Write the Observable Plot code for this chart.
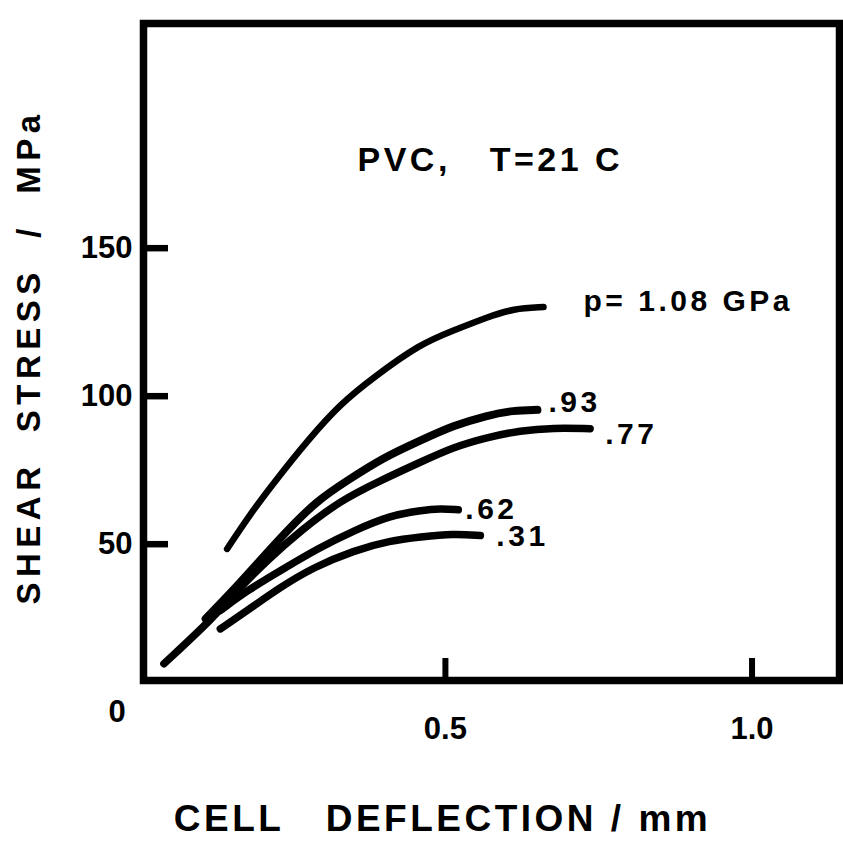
<!DOCTYPE html>
<html><head><meta charset="utf-8">
<script src="https://cdn.jsdelivr.net/npm/d3@7"></script>
<script src="https://cdn.jsdelivr.net/npm/@observablehq/plot@0.6"></script>
<style>
html,body{margin:0;padding:0;background:#fff;}
#chart svg{display:block;}
</style>
</head><body><div id="chart"></div>
<script>
// ---- data ----
const seriesKeys = ["1.08", ".93", ".77", ".62", ".31"];
const seriesLabels = ["p=\u00A01.08\u00A0GPa", ".93", ".77", ".62", ".31"];

const deflection108 = [0.144, 0.182, 0.223, 0.275, 0.329, 0.383, 0.459, 0.513, 0.568, 0.611, 0.660];
const stress108     = [48.4, 60.3, 71.5, 85.0, 97.5, 106.4, 117.7, 122.2, 126.7, 129.6, 130.1];

const deflection093 = [0.109, 0.149, 0.193, 0.242, 0.291, 0.340, 0.399, 0.459, 0.513, 0.568, 0.611, 0.650];
const stress093     = [24.8, 33.3, 43.4, 54.6, 64.8, 71.5, 79.3, 85.0, 90.1, 93.5, 95.2, 95.4];

const deflection077 = [0.041, 0.120, 0.166, 0.209, 0.264, 0.329, 0.394, 0.459, 0.513, 0.568, 0.622, 0.676, 0.736];
const stress077     = [9.6, 24.8, 35.5, 44.5, 54.6, 64.8, 71.5, 77.7, 82.8, 86.1, 88.4, 89.3, 89.0];

const deflection062 = [0.133, 0.177, 0.231, 0.296, 0.351, 0.410, 0.459, 0.492, 0.521];
const stress062     = [27.6, 34.4, 41.1, 49.0, 54.6, 59.7, 61.4, 62.1, 61.6];

const deflection031 = [0.133, 0.177, 0.231, 0.285, 0.351, 0.410, 0.459, 0.513, 0.557];
const stress031     = [21.4, 27.6, 35.5, 42.2, 47.9, 51.2, 52.4, 53.6, 52.9];

const xTicks = [0.5, 1.0];
const xTickLabels = ["0.5", "1.0"];
const yTicks = [50, 100, 150];
const yTickLabels = ["50", "100", "150"];
const originLabel = "0";
const annotation = "PVC,\u00A0\u00A0\u00A0T=21\u00A0C";
const xTitle = "CELL\u00A0\u00A0\u00A0DEFLECTION\u00A0/\u00A0mm";
const yTitle = "SHEAR\u00A0\u00A0STRESS\u00A0\u00A0/\u00A0\u00A0MPa";

// ---- build table ----
const xs = [deflection108, deflection093, deflection077, deflection062, deflection031];
const ys = [stress108, stress093, stress077, stress062, stress031];
const rows = [];
seriesKeys.forEach((k, i) => xs[i].forEach((x, j) => rows.push({p: k, x, y: ys[i][j]})));
const ends = seriesKeys.map((k, i) => ({p: k, label: seriesLabels[i], x: xs[i][xs[i].length - 1], y: ys[i][ys[i].length - 1]}));

// label offsets (style only)
const labelOffset = {"1.08": [40, -6], ".93": [11, -7], ".77": [15, 6], ".62": [7, 0], ".31": [16, 1]};
const lineWidth = {"1.08": 6.5, ".93": 8, ".77": 7.5, ".62": 7.5, ".31": 7.5};

const font = "'Liberation Sans', Arial, Helvetica, sans-serif";

const marks = [
  Plot.frame({stroke: "#000", strokeWidth: 7.5}),
  ...seriesKeys.map(k => Plot.line(rows.filter(d => d.p === k), {
    x: "x", y: "y", curve: "basis", stroke: "#000", strokeWidth: lineWidth[k], strokeLinecap: "round", strokeLinejoin: "round"
  })),
  ...seriesKeys.map(k => Plot.text(ends.filter(d => d.p === k), {
    x: "x", y: "y", text: "label", textAnchor: "start", lineAnchor: "middle",
    dx: labelOffset[k][0], dy: labelOffset[k][1], fontSize: 30, fontWeight: "bold", fill: "#000", ariaLabel: () => "curve-label"
  })),
  Plot.axisY({ticks: yTicks, tickFormat: d => yTickLabels[yTicks.indexOf(d)], tickSize: -25, tickPadding: 36,
    strokeWidth: 6.5, fontSize: 31, fontWeight: "bold", label: null}),
  Plot.axisX({ticks: xTicks, tickFormat: d => xTickLabels[xTicks.indexOf(d)], tickSize: -22, tickPadding: 58,
    strokeWidth: 6, fontSize: 31, fontWeight: "bold", label: null}),
  Plot.text([originLabel], {frameAnchor: "bottom-left", dx: -35, dy: 32, text: d => d, fontSize: 31, fontWeight: "bold", lineAnchor: "middle"}),
  Plot.text([annotation], {frameAnchor: "top-left", dx: 214, dy: 137, text: d => d, textAnchor: "start", lineAnchor: "middle",
    fontSize: 34, fontWeight: "bold", ariaLabel: () => "annotation"}),
  Plot.text([xTitle], {frameAnchor: "bottom-left", dx: 299, dy: 139, text: d => d, textAnchor: "middle", lineAnchor: "middle",
    fontSize: 37, fontWeight: "bold", ariaLabel: () => "x-title"}),
  Plot.text([yTitle], {frameAnchor: "left", dx: -114, dy: 5, rotate: -90, text: d => d, textAnchor: "middle", lineAnchor: "middle",
    fontSize: 33, fontWeight: "bold", ariaLabel: () => "y-title"})
];

const chart = Plot.plot({
  width: 843, height: 845,
  marginLeft: 143, marginRight: 4, marginTop: 23, marginBottom: 165,
  x: {domain: [0.0077, 1.1426]},
  y: {domain: [3.95, 225.9]},
  style: {fontFamily: font, background: "#fff", color: "#000", overflow: "visible"},
  marks
});

const svg = d3.select(chart);
const spacing = {"y-title": 5.5, "x-title": 3.5, "annotation": 3.5, "curve-label": 3.5};
for (const [name, ls] of Object.entries(spacing)) {
  svg.selectAll(`[aria-label="${name}"]`).attr("letter-spacing", ls).style("letter-spacing", ls + "px");
  svg.selectAll(`[aria-label="${name}"] text`).attr("letter-spacing", ls).style("letter-spacing", ls + "px");
}
document.getElementById("chart").append(chart);
</script>
</body></html>
